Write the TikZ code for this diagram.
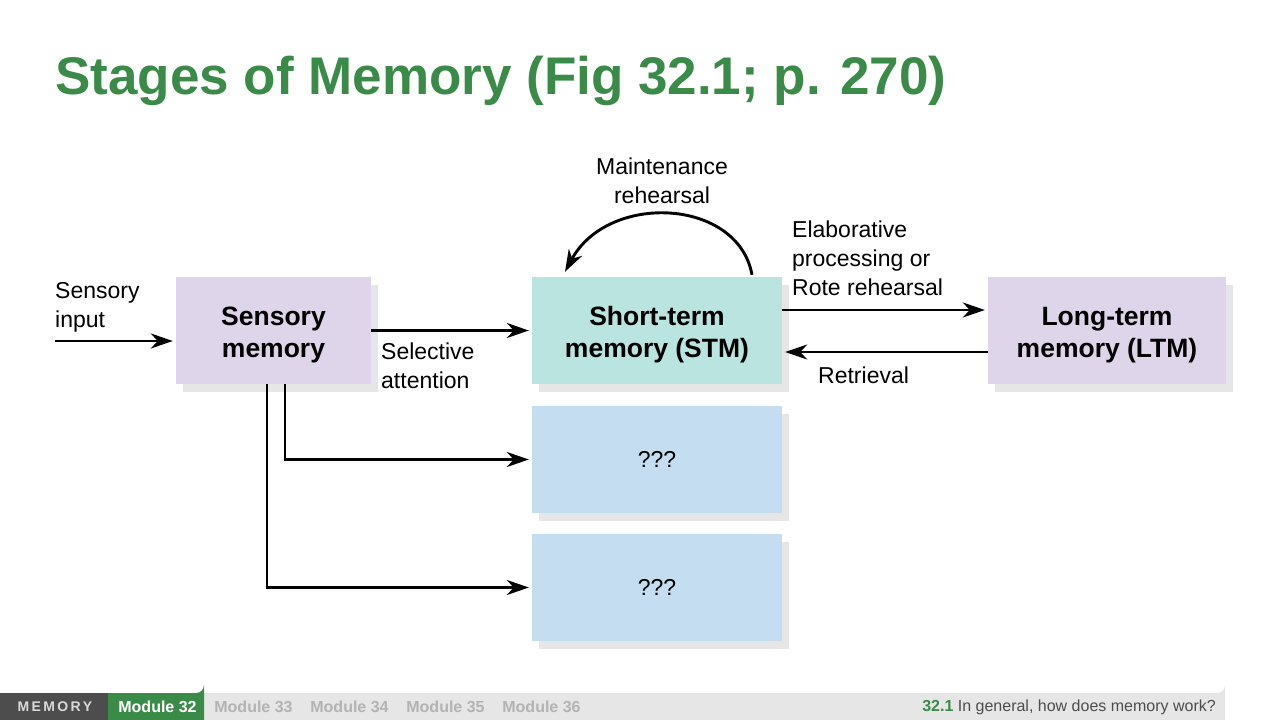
\documentclass[tikz,border=0pt]{standalone}
\usepackage{fontspec}
\setmainfont{Liberation Sans}
\usetikzlibrary{arrows.meta,calc}
\definecolor{titlegreen}{HTML}{3B8B48}
\definecolor{lav}{HTML}{DFD5EA}
\definecolor{teal}{HTML}{B9E4DF}
\definecolor{qblue}{HTML}{C4DDF1}
\definecolor{shadowgray}{HTML}{E6E6E6}
\definecolor{barlight}{HTML}{E6E6E6}
\definecolor{bardark}{HTML}{4D4D4D}
\definecolor{modgray}{HTML}{B3B3B3}
\definecolor{foottext}{HTML}{4D4D4D}
\newcommand{\mystrut}{\rule{0pt}{27pt}}
\tikzset{
  membox/.style={minimum width=#1, minimum height=107pt, inner sep=0pt, align=center,
     font=\fontsize{26.5}{32}\selectfont\bfseries},
  lbl/.style={inner sep=0pt, font=\fontsize{23}{29}\selectfont},
  arr/.style={line width=2.9pt, -{Stealth[length=22pt,width=15pt,inset=7pt]}, shorten >=3pt},
  foot/.style={inner sep=0pt, font=\fontsize{16}{19}\selectfont\bfseries},
}
\begin{document}
\begin{tikzpicture}[x=1pt,y=-1pt]
\useasboundingbox (0,0) rectangle (1280,720);
\fill[white] (0,0) rectangle (1280,720);
% title
\node[anchor=base west, inner sep=0pt, text=titlegreen, font=\fontsize{53}{60}\selectfont\bfseries] (title) at (55,94) {Stages of Memory (Fig 32.1; p. 270)};
% shadows
\foreach \x/\y/\w in {176/277/195, 532/277/250, 988/277/238, 532/406/250, 532/534/250}{
  \fill[shadowgray] (\x+7,\y+8) rectangle (\x+\w+7,\y+115);
}
% boxes
\node[membox=195pt, fill=lav] (sens) at (273.5,330.5) {\mystrut Sensory\\memory};
\node[membox=250pt, fill=teal] (stm) at (657,330.5) {\mystrut Short-term\\memory (STM)};
\node[membox=238pt, fill=lav] (ltm) at (1107,330.5) {\mystrut Long-term\\memory (LTM)};
\node[membox=250pt, fill=qblue, font=\fontsize{23}{28}\selectfont] (q1) at (657,459.5) {???};
\node[membox=250pt, fill=qblue, font=\fontsize{23}{28}\selectfont] (q2) at (657,587.5) {???};
% labels
\node[lbl, anchor=west, align=left] (linput) at (55,307.5) {Sensory\\input};
\node[lbl, anchor=west, align=left] (lsel) at (381,365.5) {Selective\\attention};
\node[lbl, align=center] (lmaint) at (662,181) {Maintenance\\rehearsal};
\node[lbl, anchor=west, align=left] (lelab) at (792,258) {Elaborative\\processing or\\Rote rehearsal};
\node[lbl, anchor=west] (lret) at (818,375) {Retrieval};
% connectors
\coordinate (in) at (55,341);
\draw[arr] (in) -- (in -| sens.west);
\draw[arr] (sens.east) -- (stm.west);
\draw[arr] ([yshift=20.5pt]stm.east) -- ([yshift=20.5pt]ltm.west);
\draw[arr] ([yshift=-21.5pt]ltm.east -| ltm.west) -- ([yshift=-21.5pt]stm.east);
\draw[arr] ([xshift=-6.5pt]sens.south) |- (q2.west);
\draw[arr] ([xshift=11.5pt]sens.south) |- (q1.west);
\draw[line width=2.9pt, -{Stealth[length=22pt,width=15pt,inset=7pt]}]
  ([xshift=95pt,yshift=2pt]stm.north) .. controls (738,198) and (608,192) .. ([xshift=-92pt,yshift=5pt]stm.north);
% footer
\fill[barlight] (0,693) -- (1217,693) arc[start angle=90, end angle=0, radius=8] -- (1225,720) -- (0,720) -- cycle;
\fill[bardark] (0,693) rectangle (108,720);
\fill[titlegreen] (108,693) -- (196,693) arc[start angle=90, end angle=0, radius=8] -- (204,720) -- (108,720) -- cycle;
\node[foot, text=white!85!black, font=\fontsize{14}{17}\selectfont\bfseries] (fmem) at (55,706.5) {M\,E\,M\,O\,R\,Y};
\node[foot, text=white] (fm32) at (157.5,707) {Module 32};
\node[foot, text=modgray] (fm33) at (253.5,707) {Module 33};
\node[foot, text=modgray] (fm34) at (349.5,707) {Module 34};
\node[foot, text=modgray] (fm35) at (445.5,707) {Module 35};
\node[foot, text=modgray] (fm36) at (541.5,707) {Module 36};
\node[foot, anchor=east, font=\fontsize{16}{19}\selectfont] (fq) at (1216,707) {\textcolor{titlegreen}{\bfseries 32.1} \textcolor{foottext}{In general, how does memory work?}};
\end{tikzpicture}
\end{document}
